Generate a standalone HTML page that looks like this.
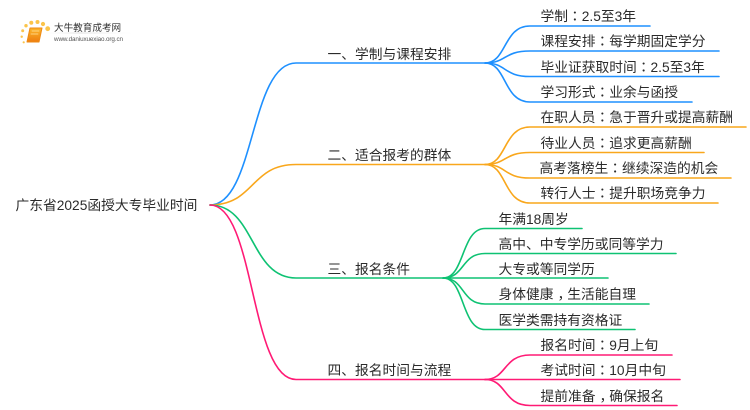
<!DOCTYPE html>
<html>
<head>
<meta charset="utf-8">
<style>
html,body{margin:0;padding:0;background:#fff;width:750px;height:410px;overflow:hidden}
svg{display:block;filter:blur(.3px)}
text{font-family:"Liberation Sans","Noto Sans CJK SC",sans-serif;font-size:13.75px;fill:#2b2b2b}
.c{font-family:"Noto Sans CJK JP",sans-serif}
path{fill:none;stroke-width:1.6;stroke-linecap:round}
.b{stroke:#1e90ff}.o{stroke:#f9a71c}.g{stroke:#0ec273}.p{stroke:#ff1a75}
</style>
</head>
<body>
<svg width="750" height="410" viewBox="0 0 750 410" xmlns="http://www.w3.org/2000/svg">
<defs>
<linearGradient id="bk" x1="0" y1="0" x2="0" y2="1"><stop offset="0" stop-color="#fbb62a"/><stop offset="1" stop-color="#ee7d10"/></linearGradient>
<linearGradient id="ln" x1="0" y1="0" x2="1" y2="0"><stop offset="0" stop-color="#eee" stop-opacity="0"/><stop offset=".4" stop-color="#ddd"/><stop offset="1" stop-color="#eee" stop-opacity="0"/></linearGradient>
</defs>

<!-- logo -->
<g fill="#fbc44a">
<circle cx="26" cy="25.7" r="1.7"/><circle cx="31.3" cy="22.7" r="2"/><circle cx="37.5" cy="22" r="2"/><circle cx="43" cy="24" r="2.1"/><circle cx="47.7" cy="28.7" r="2.4"/><circle cx="22.7" cy="30.7" r="1.5"/><circle cx="21.7" cy="36.7" r="1.2"/><circle cx="23.7" cy="42.3" r="1.1"/>
</g>
<path d="M30 28H42L39 42H27Z" style="fill:url(#bk);stroke:#ee8a14;stroke-width:1;stroke-linejoin:round"/>
<path d="M32 31H39M31 34H38" style="stroke:#ffe3a0;stroke-width:.8"/>
<rect x="45" y="32.5" width="88" height="1" fill="url(#ln)"/>
<text x="54" y="31" style="font-size:9.6px;fill:#333">大牛教育成考网</text>
<text x="54" y="41" style="font-size:6.3px;fill:#555" textLength="69">www.daniuxuexiao.org.cn</text>

<!-- branch 1 -->
<path class="b" d="M210 205C255 205 250 63 296 63H485"/>
<path class="b" d="M485 63C507 63 503 26 530 26H650"/>
<path class="b" d="M485 63C507 63 503 51 530 51H719"/>
<path class="b" d="M485 63C507 63 503 76.500 530 76.500H719"/>
<path class="b" d="M485 63C507 63 503 102 530 102H692"/>

<!-- branch 2 -->
<path class="o" d="M210 205C255 205 250 164.500 296 164.500H485"/>
<path class="o" d="M485 164.500C507 164.500 503 127 530 127H746"/>
<path class="o" d="M485 164.500C507 164.500 503 152.500 530 152.500H704"/>
<path class="o" d="M485 164.500C507 164.500 503 178 530 178H731"/>
<path class="o" d="M485 164.500C507 164.500 503 203 530 203H718"/>

<!-- branch 3 -->
<path class="g" d="M210 205C255 205 250 278 296 278H443"/>
<path class="g" d="M443 278C465 278 461 228.500 485 228.500H582"/>
<path class="g" d="M443 278C465 278 461 253.500 485 253.500H676"/>
<path class="g" d="M443 278H608"/>
<path class="g" d="M443 278C465 278 461 304 485 304H649"/>
<path class="g" d="M443 278C465 278 461 329.500 485 329.500H635"/>

<!-- branch 4 -->
<path class="p" d="M210 205C255 205 250 379.500 296 379.500H485"/>
<path class="p" d="M485 379.500C507 379.500 503 355 530 355H672"/>
<path class="p" d="M485 379.500H680"/>
<path class="p" d="M485 379.500C507 379.500 503 405.500 530 405.500H677"/>

<!-- root -->
<text x="15.500" y="210">广东省2025函授大专毕业时间</text>

<!-- branch labels -->
<text x="327.500" y="59">一、学制与课程安排</text>
<text x="327.500" y="160">二、适合报考的群体</text>
<text x="327.500" y="274">三、报名条件</text>
<text x="327.500" y="375">四、报名时间与流程</text>

<!-- leaves -->
<text x="540.500" y="21">学制<tspan class="c">：</tspan>2.5至3年</text>
<text x="540.500" y="46">课程安排<tspan class="c">：</tspan>每学期固定学分</text>
<text x="540.500" y="72">毕业证获取时间<tspan class="c">：</tspan>2.5至3年</text>
<text x="540.500" y="97">学习形式<tspan class="c">：</tspan>业余与函授</text>
<text x="540.500" y="122">在职人员<tspan class="c">：</tspan>急于晋升或提高薪酬</text>
<text x="540.500" y="148">待业人员<tspan class="c">：</tspan>追求更高薪酬</text>
<text x="539.500" y="173">高考落榜生<tspan class="c">：</tspan>继续深造的机会</text>
<text x="540.500" y="198">转行人士<tspan class="c">：</tspan>提升职场竞争力</text>

<text x="498.500" y="224">年满18周岁</text>
<text x="498.500" y="249">高中、中专学历或同等学力</text>
<text x="498.500" y="274">大专或等同学历</text>
<text x="498.500" y="299">身体健康<tspan dx="4">，</tspan><tspan dx="-4">生活能自理</tspan></text>
<text x="498.500" y="325">医学类需持有资格证</text>

<text x="540.500" y="350">报名时间<tspan class="c">：</tspan>9月上旬</text>
<text x="540.500" y="375">考试时间<tspan class="c">：</tspan>10月中旬</text>
<text x="540.500" y="401">提前准备<tspan dx="4">，</tspan><tspan dx="-4">确保报名</tspan></text>
</svg>
</body>
</html>
